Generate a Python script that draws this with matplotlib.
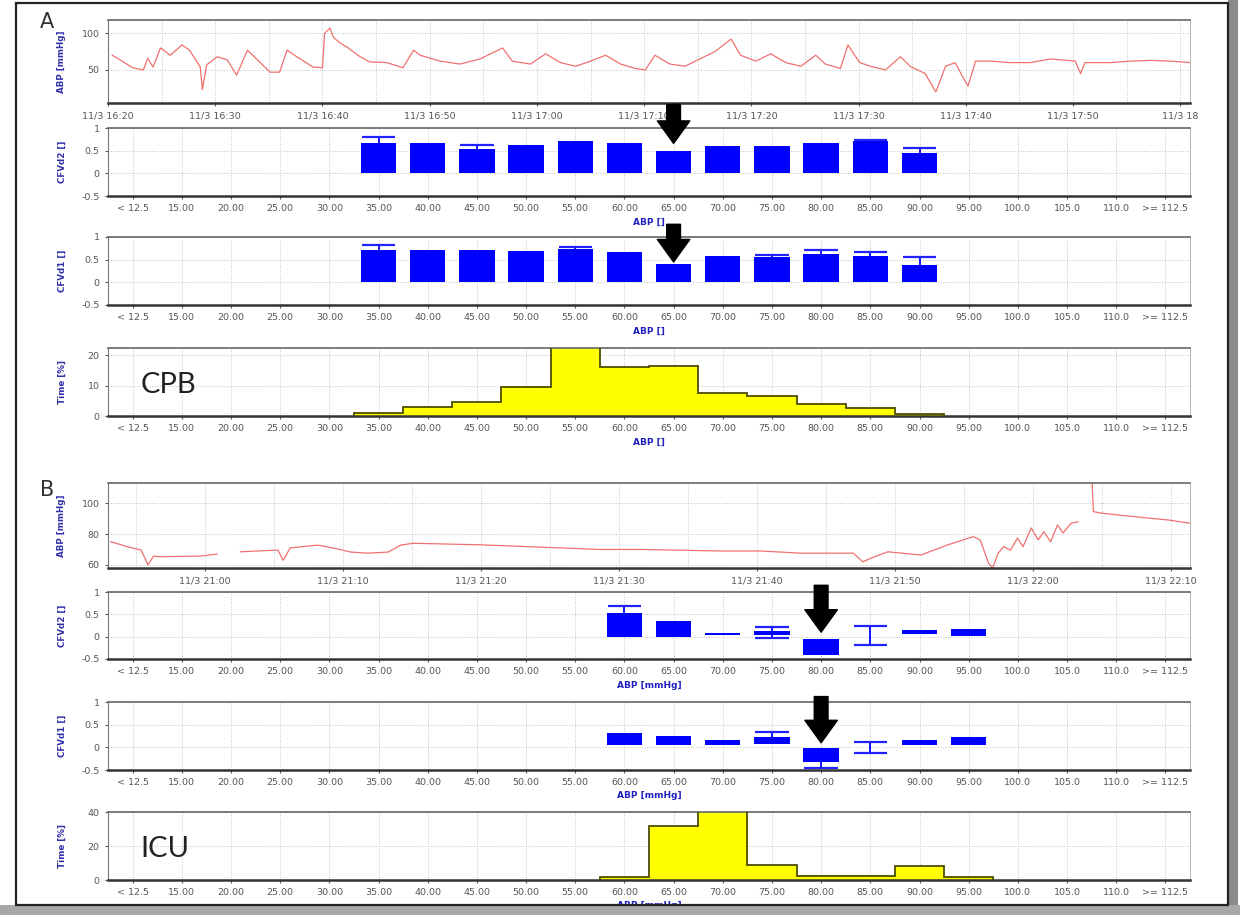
import matplotlib
matplotlib.use("Agg")
import matplotlib.pyplot as plt
import numpy as np
from matplotlib.patches import Rectangle

W, H = 1251, 915
nan = np.nan

# ---------------- data ----------------
bin_labels = ["< 12.5", "15.00", "20.00", "25.00", "30.00", "35.00", "40.00",
              "45.00", "50.00", "55.00", "60.00", "65.00", "70.00", "75.00",
              "80.00", "85.00", "90.00", "95.00", "100.0", "105.0", "110.0",
              ">= 112.5"]

# A: CPB recording, minutes after 11/3 16:20
a_time = [0.4, 1.1, 2.3, 3.3, 3.7, 4.2, 4.9, 5.8, 6.9, 7.6, 8.6, 8.8, 9.2, 10.2,
          11.1, 12.0, 13.0, 14.2, 15.1, 16.0, 16.7, 17.6, 19.1, 20.0, 20.2, 20.7,
          21.0, 21.6, 22.3, 23.5, 24.4, 26.0, 27.5, 28.5, 29.1, 31.0, 32.8, 34.7,
          36.8, 37.7, 39.4, 40.8, 42.2, 43.6, 45.0, 46.4, 47.8, 49.2, 50.1, 51.0,
          52.4, 53.8, 55.2, 56.6, 58.1, 59.0, 60.4, 61.8, 63.2, 64.6, 66.0, 66.9,
          68.3, 69.0, 70.1, 71.1, 72.5, 73.9, 74.8, 76.2, 77.2, 78.1, 79.0, 79.8,
          80.2, 80.9, 82.3, 84.1, 86.0, 87.9, 90.2, 90.7, 91.1, 93.5, 95.3, 97.2,
          99.1, 100.9]
a_abp = [70, 64, 53, 50, 66, 54, 80, 70, 84, 77, 54, 23, 57, 68,
         64, 43, 77, 60, 47, 47, 77, 68, 54, 53, 100, 107,
         95, 87, 81, 68, 61, 60, 53, 77, 70, 62, 58, 65,
         80, 62, 58, 72, 60, 55, 62, 70, 58, 52, 50, 70,
         58, 55, 65, 75, 92, 70, 62, 72, 60, 55, 70, 58,
         52, 84, 60, 55, 50, 68, 55, 45, 20, 55, 60, 38,
         28, 62, 62, 60, 60, 65, 62, 45, 60, 60, 62, 63,
         62, 60]
a_time_ticks = [0, 10, 20, 30, 40, 50, 60, 70, 80, 90, 100]
a_time_labels = ["11/3 16:20", "11/3 16:30", "11/3 16:40", "11/3 16:50",
                 "11/3 17:00", "11/3 17:10", "11/3 17:20", "11/3 17:30",
                 "11/3 17:40", "11/3 17:50", "11/3 18"]

a_idx = [5, 6, 7, 8, 9, 10, 11, 12, 13, 14, 15, 16]
a_cfvd2 = [0.67, 0.67, 0.54, 0.63, 0.71, 0.67, 0.49, 0.61, 0.61, 0.67, 0.71, 0.45]
a_cfvd2_cap = [0.80, nan, 0.62, nan, nan, nan, nan, nan, nan, nan, 0.74, 0.56]
a_cfvd1 = [0.71, 0.71, 0.71, 0.70, 0.74, 0.66, 0.41, 0.59, 0.55, 0.62, 0.57, 0.38]
a_cfvd1_cap = [0.83, nan, nan, nan, 0.79, nan, nan, nan, 0.61, 0.71, 0.66, 0.55]
cpb_time = [1.0, 2.8, 4.5, 9.5, 23.0, 16.0, 16.5, 7.5, 6.5, 3.8, 2.6, 0.7]

# B: ICU recording, minutes after 11/3 21:00
b_time = [-6.8, -5.6, -4.6, -4.1, -3.7, -3.2, -0.3, 0.9, 1.8, 2.6, 5.3, 5.7, 6.2,
          8.2, 9.3, 10.6, 11.8, 13.3, 14.2, 15.1, 20.0, 22.9, 25.8, 28.7, 31.6,
          34.5, 37.4, 40.3, 43.2, 47.0, 47.7, 48.3, 49.5, 51.9, 53.8, 55.7, 56.2,
          56.8, 57.1, 57.5, 57.9, 58.4, 58.9, 59.3, 59.9, 60.4, 60.8, 61.3, 61.8,
          62.2, 62.8, 63.3, 63.8, 64.3, 64.4, 64.9, 66.2, 67.4, 68.5, 69.8, 71.4]
b_abp = [75, 71.8, 69.6, 60, 65.7, 65.3, 65.7, 67, nan, 68.5, 69.6, 63, 71,
         72.8, 71, 68.3, 67.6, 68.3, 72.8, 74, 73, 72, 71, 70, 70,
         69.5, 69, 69, 67.6, 67.6, 62, 64.4, 68.5, 66.4, 72.8, 78.3, 76.1,
         61.2, 58, 67.6, 71.8, 69.6, 77.4, 71.8, 83.9, 76.1, 81.5, 75, 85.9,
         80.6, 87.1, 87.9, nan, 115, 94.5, 93.6, 92.3, 91.2, 90.2, 89.1, 87]
b_time_ticks = [0, 10, 20, 30, 40, 50, 60, 70]
b_time_labels = ["11/3 21:00", "11/3 21:10", "11/3 21:20", "11/3 21:30",
                 "11/3 21:40", "11/3 21:50", "11/3 22:00", "11/3 22:10"]

b_idx = [10, 11, 12, 13, 14, 15, 16, 17]
b_cfvd2_lo = [0.0, 0.0, 0.04, 0.04, -0.42, nan, 0.05, 0.02]
b_cfvd2_hi = [0.52, 0.36, 0.09, 0.12, -0.06, nan, 0.16, 0.18]
b_cfvd2_cap_lo = [nan, nan, nan, -0.04, nan, -0.18, nan, nan]
b_cfvd2_cap_hi = [0.68, nan, nan, 0.22, nan, 0.23, nan, nan]
b_cfvd1_lo = [0.05, 0.05, 0.05, 0.07, -0.32, nan, 0.05, 0.05]
b_cfvd1_hi = [0.31, 0.25, 0.16, 0.22, -0.02, nan, 0.16, 0.23]
b_cfvd1_cap_lo = [nan, nan, nan, nan, -0.46, -0.12, nan, nan]
b_cfvd1_cap_hi = [nan, nan, nan, 0.34, nan, 0.12, nan, nan]
icu_time = [1.6, 32.0, 41.0, 9.0, 2.4, 2.4, 8.0, 1.6]

# ---------------- helpers ----------------
BLUE = "#0000ff"
LABEL_BLUE = "#3030a8"
TICK_GRAY = "#555555"


def px_axes(fig, x0, y0, x1, y1):
    return fig.add_axes([x0 / W, 1 - y1 / H, (x1 - x0) / W, (y1 - y0) / H])


def style(ax):
    ax.spines["bottom"].set_linewidth(1.8)
    ax.spines["bottom"].set_color("#333333")
    ax.spines["top"].set_linewidth(1.2)
    ax.spines["top"].set_color("#666666")
    ax.spines["left"].set_linewidth(0.8)
    ax.spines["left"].set_color("#777777")
    ax.spines["right"].set_linewidth(0.6)
    ax.spines["right"].set_color("#aaaaaa")
    ax.tick_params(labelsize=6.8, colors=TICK_GRAY, length=2.5, width=0.8)
    ax.grid(True, which="both", linestyle=":", color="#c4c4c4", linewidth=0.7)
    ax.set_axisbelow(True)


def cat_axis(ax, xlabel):
    ax.set_xlim(-0.5, 21.5)
    ax.set_xticks(range(len(bin_labels)))
    ax.set_xticklabels(bin_labels)
    ax.set_xlabel(xlabel, fontsize=6.5, color="#2020c0", fontweight="bold",
                  labelpad=3)


def cfv_panel(ax, idx, lo, hi, cap_lo, cap_hi):
    lo = np.array(lo, float)
    hi = np.array(hi, float)
    ax.bar(idx, hi - lo, bottom=lo, width=0.72, color=BLUE, linewidth=0)
    for i, l, h, cl, ch in zip(idx, lo, hi, cap_lo, cap_hi):
        if np.isnan(l):
            if not (np.isnan(cl) or np.isnan(ch)):
                ax.vlines(i, cl, ch, color=BLUE, lw=1.3)
        else:
            if not np.isnan(ch):
                ax.vlines(i, h, ch, color=BLUE, lw=1.3)
            if not np.isnan(cl):
                ax.vlines(i, cl, l, color=BLUE, lw=1.3)
        for c in (cl, ch):
            if not np.isnan(c):
                ax.hlines(c, i - 0.34, i + 0.34, color="#2222ff", lw=1.6)
    ax.set_ylim(-0.5, 1.0)
    ax.set_yticks([-0.5, 0, 0.5, 1])
    ax.set_yticklabels(["-0.5", "0", "0.5", "1"])


def hist_panel(ax, idx, vals, ymax, yticks):
    edges = np.arange(idx[0] - 0.5, idx[-1] + 1.0, 1.0)
    ax.stairs(vals, edges, fill=True, color="#ffff00", zorder=2)
    ax.stairs(vals, edges, color="#4d4d00", linewidth=1.3, zorder=3)
    ax.set_ylim(0, ymax)
    ax.set_yticks(yticks)


def arrow(ax, i, start, tip):
    ax.annotate("", xy=(i, tip), xytext=(i, start),
                arrowprops=dict(arrowstyle="simple,head_length=0.9,head_width=1.3,tail_width=0.55",
                                color="black", mutation_scale=18,
                                shrinkA=0, shrinkB=0),
                annotation_clip=False, zorder=20)


def ylabel(fig, text, y0, y1):
    fig.text(62 / W, 1 - (y0 + y1) / 2 / H, text, rotation=90, ha="center",
             va="center", fontsize=6.3, color=LABEL_BLUE, fontweight="bold")


# ---------------- figure ----------------
fig = plt.figure(figsize=(W / 100, H / 100), dpi=100)
fig.patch.set_facecolor("white")

X0, X1 = 108, 1190

# --- A: ABP trace
ax = px_axes(fig, X0, 20, X1, 103)
style(ax)
ax.plot(a_time, a_abp, color="#f07070", lw=0.9)
ax.set_xlim(0, 100.9)
ax.set_ylim(5, 118)
ax.set_yticks([50, 100])
ax.set_xticks(a_time_ticks)
ax.set_xticklabels(a_time_labels)
ax.set_xticks(np.arange(5, 100, 10), minor=True)
ax.tick_params(which="minor", length=0)
ylabel(fig, "ABP [mmHg]", 20, 103)

# --- A: CFVd2
ax = px_axes(fig, X0, 128, X1, 196)
style(ax)
cfv_panel(ax, a_idx, np.zeros(len(a_idx)), a_cfvd2,
          [nan] * len(a_idx), a_cfvd2_cap)
cat_axis(ax, "ABP []")
arrow(ax, 11, 1.52, 0.66)
ylabel(fig, "CFVd2 []", 128, 196)

# --- A: CFVd1
ax = px_axes(fig, X0, 237, X1, 305)
style(ax)
cfv_panel(ax, a_idx, np.zeros(len(a_idx)), a_cfvd1,
          [nan] * len(a_idx), a_cfvd1_cap)
cat_axis(ax, "ABP []")
arrow(ax, 11, 1.28, 0.45)
ylabel(fig, "CFVd1 []", 237, 305)

# --- A: time histogram (CPB)
ax = px_axes(fig, X0, 348, X1, 416)
style(ax)
hist_panel(ax, a_idx, cpb_time, 22.3, [0, 10, 20])
cat_axis(ax, "ABP []")
ax.text(0.03, 0.45, "CPB", transform=ax.transAxes, fontsize=21,
        family="Lato", color="#222222", va="center")
ylabel(fig, "Time [%]", 348, 416)

# --- B: ABP trace
ax = px_axes(fig, X0, 483, X1, 568)
style(ax)
ax.plot(b_time, b_abp, color="#f07070", lw=0.9)
ax.set_xlim(-7.0, 71.4)
ax.set_ylim(58, 113)
ax.set_yticks([60, 80, 100])
ax.set_xticks(b_time_ticks)
ax.set_xticklabels(b_time_labels)
ax.set_xticks(np.arange(-5, 71, 5), minor=True)
ax.tick_params(which="minor", length=0)
ylabel(fig, "ABP [mmHg]", 483, 568)

# --- B: CFVd2
ax = px_axes(fig, X0, 592, X1, 659)
style(ax)
cfv_panel(ax, b_idx, b_cfvd2_lo, b_cfvd2_hi, b_cfvd2_cap_lo, b_cfvd2_cap_hi)
cat_axis(ax, "ABP [mmHg]")
arrow(ax, 14, 1.15, 0.1)
ylabel(fig, "CFVd2 []", 592, 659)

# --- B: CFVd1
ax = px_axes(fig, X0, 702, X1, 770)
style(ax)
cfv_panel(ax, b_idx, b_cfvd1_lo, b_cfvd1_hi, b_cfvd1_cap_lo, b_cfvd1_cap_hi)
cat_axis(ax, "ABP [mmHg]")
arrow(ax, 14, 1.12, 0.1)
ylabel(fig, "CFVd1 []", 702, 770)

# --- B: time histogram (ICU)
ax = px_axes(fig, X0, 812, X1, 880)
style(ax)
hist_panel(ax, b_idx, icu_time, 40, [0, 20, 40])
cat_axis(ax, "ABP [mmHg]")
ax.text(0.03, 0.45, "ICU", transform=ax.transAxes, fontsize=21,
        family="Lato", color="#222222", va="center")
ylabel(fig, "Time [%]", 812, 880)

# panel letters
fig.text(40 / W, 1 - 22 / H, "A", fontsize=15, color="#333333", va="center")
fig.text(40 / W, 1 - 490 / H, "B", fontsize=15, color="#333333", va="center")

# window frame
frame = Rectangle((16 / W, 1 - 905 / H), (1228 - 16) / W, (905 - 3) / H,
                  transform=fig.transFigure, fill=False, edgecolor="#222222",
                  linewidth=1.6, zorder=30)
fig.add_artist(frame)
fig.add_artist(Rectangle((1228 / W, 0), 10 / W, 1, transform=fig.transFigure,
                         facecolor="#8a8a8a", edgecolor="none", zorder=29))
fig.add_artist(Rectangle((0, 0), 1240 / W, 10 / H, transform=fig.transFigure,
                         facecolor="#a8a8a8", edgecolor="none", zorder=29))

fig.savefig("out.png", dpi=100)
